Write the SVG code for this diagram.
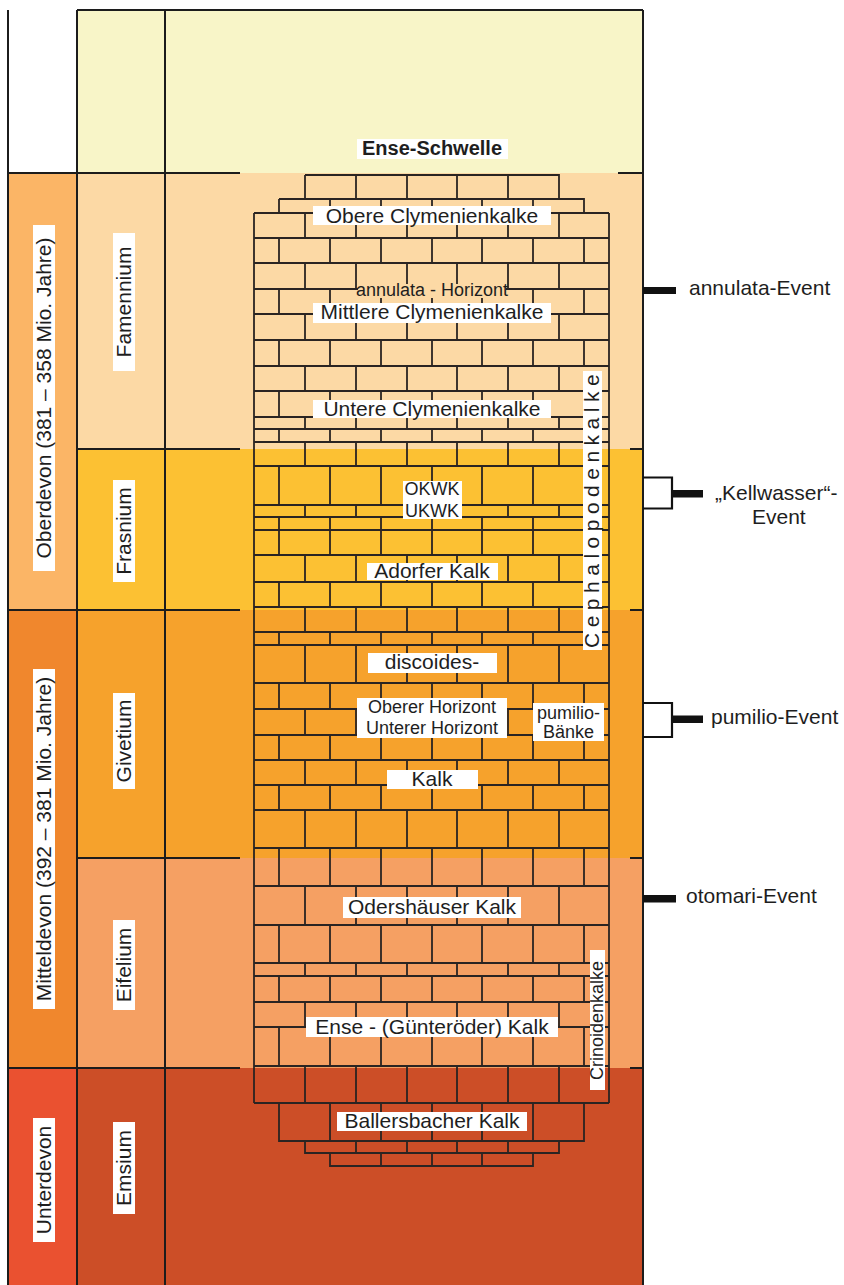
<svg xmlns="http://www.w3.org/2000/svg" width="844" height="1285" viewBox="0 0 844 1285">
<style>
text { font-family: "Liberation Sans", Arial, Helvetica, sans-serif; fill: #1e1e1e; }
.l { font-size: 21px; text-anchor: middle; }
.s { font-size: 18px; text-anchor: middle; }
.ev { font-size: 21px; }
.box { fill: #ffffff; }
.frame { stroke: #1c1c1c; stroke-width: 2; fill: none; }
.brick { stroke: #2a2422; stroke-width: 1.8; fill: none; }
.va { stroke-dasharray: 25 25 26 25 26 26 25 26 12 13 24 39 12 38 27 25 25 13 38 26 26 25 25 25 38 38 39 38 13 26 25 39 37 1000; }
.vb { stroke-dasharray: 25 26 25 26 26 25 26 12 13 24 39 12 38 27 25 25 13 38 26 26 25 25 25 38 38 39 38 13 26 25 39 1000; }
.bar { fill: #111111; }
.bracket { stroke: #111111; stroke-width: 2.2; fill: none; }
</style>
<rect x="0" y="0" width="844" height="1285" fill="#ffffff"/>
<g id="backgrounds">
<rect x="77" y="10" width="566" height="163" fill="#f8f5c8"/>
<rect x="8" y="173" width="69" height="437" fill="#fbb566"/>
<rect x="8" y="610" width="69" height="458" fill="#f0872d"/>
<rect x="8" y="1068" width="69" height="217" fill="#ea5130"/>
<rect x="77" y="173" width="566" height="276" fill="#fcd9a5"/>
<rect x="77" y="449" width="566" height="161" fill="#fcc133"/>
<rect x="77" y="610" width="566" height="248" fill="#f6a22c"/>
<rect x="77" y="858" width="566" height="210" fill="#f5a063"/>
<rect x="77" y="1068" width="566" height="217" fill="#cc4e27"/>
</g>
<g id="frame">
<path class="frame" d="M8 10V1285M77 10V1285M165 10V1285M643 10V1285M77 10H643M8 173H240M618 173H643M77 449H240M630 449H643M8 610H240M630 610H643M77 858H240M630 858H643M8 1068H240M630 1068H643"/>
</g>
<g id="brick-wall">
<path class="brick" d="M254 213H609M254 238H609M254 263H609M254 289H609M254 314H609M254 340H609M254 366H609M254 391H609M254 417H609M254 429H609M254 442H609M254 466H609M254 505H609M254 517H609M254 530H609M254 555H609M254 582H609M254 607H609M254 632H609M254 645H609M254 683H609M254 709H609M254 735H609M254 760H609M254 785H609M254 810H609M254 848H609M254 886H609M254 925H609M254 963H609M254 976H609M254 1002H609M254 1027H609M254 1066H609M254 1103H609M254 213V1103M609 213V1103"/>
<path class="brick" d="M305 175H559V199M305 175V199M279 199H584V213M279 199V213M356 175V199M407 175V199M457 175V199M508 175V199M330 199V213M381 199V213M432 199V213M482 199V213M533 199V213"/>
<path class="brick" d="M279 1103V1141H584V1103M305 1141V1153H559V1141M330 1153V1166H533V1153M330 1103V1141M381 1103V1141M432 1103V1141M482 1103V1141M533 1103V1141M356 1141V1153M407 1141V1153M457 1141V1153M508 1141V1153M381 1153V1166M432 1153V1166M482 1153V1166"/>
<path class="brick va" d="M305 213V1103M356 213V1103M407 213V1103M457 213V1103M508 213V1103M559 213V1103"/>
<path class="brick vb" d="M279 238V1066M330 238V1066M381 238V1066M432 238V1066M482 238V1066M533 238V1066M584 238V1066"/>
</g>
<g id="ense-schwelle">
<rect class="box" x="357" y="139" width="151" height="20"/>
<text x="432" y="155" style="font-size:20px;font-weight:bold;text-anchor:middle">Ense-Schwelle</text>
</g>
<g id="oberdevon">
<rect class="box" x="33" y="225" width="22" height="346"/>
<text class="l" transform="translate(51 398) rotate(-90)">Oberdevon (381 – 358 Mio. Jahre)</text>
</g>
<g id="mitteldevon">
<rect class="box" x="33" y="669" width="22" height="340"/>
<text class="l" transform="translate(51 839) rotate(-90)">Mitteldevon (392 – 381 Mio. Jahre)</text>
</g>
<g id="unterdevon">
<rect class="box" x="33" y="1118" width="22" height="124"/>
<text class="l" transform="translate(51 1180) rotate(-90)">Unterdevon</text>
</g>
<g id="famennium">
<rect class="box" x="113" y="233" width="22" height="138"/>
<text class="l" transform="translate(131 302) rotate(-90)">Famennium</text>
</g>
<g id="frasnium">
<rect class="box" x="113" y="480" width="22" height="102"/>
<text class="l" transform="translate(131 531) rotate(-90)">Frasnium</text>
</g>
<g id="givetium">
<rect class="box" x="113" y="693" width="22" height="96"/>
<text class="l" transform="translate(131 741) rotate(-90)">Givetium</text>
</g>
<g id="eifelium">
<rect class="box" x="113" y="920" width="22" height="90"/>
<text class="l" transform="translate(131 965) rotate(-90)">Eifelium</text>
</g>
<g id="emsium">
<rect class="box" x="113" y="1122" width="22" height="92"/>
<text class="l" transform="translate(131 1168) rotate(-90)">Emsium</text>
</g>
<g id="obere-clymenienkalke">
<rect class="box" x="313" y="206" width="238" height="19"/>
<text class="l" x="432" y="222.5">Obere Clymenienkalke</text>
</g>
<g id="annulata-horizont">
<rect x="358" y="284" width="148" height="14" fill="#fcd9a5"/>
<text class="s" x="432" y="296">annulata - Horizont</text>
</g>
<g id="mittlere-clymenienkalke">
<rect class="box" x="313" y="303" width="238" height="20"/>
<text class="l" x="432" y="319">Mittlere Clymenienkalke</text>
</g>
<g id="untere-clymenienkalke">
<rect class="box" x="313" y="400" width="238" height="18"/>
<text class="l" x="432" y="415.5">Untere Clymenienkalke</text>
</g>
<g id="cephalopodenkalke">
<rect class="box" x="583" y="371" width="19" height="279"/>
<text transform="translate(599 648) rotate(-90)" style="font-size:21px;letter-spacing:5.5px">Cephalopodenkalke</text>
</g>
<g id="kwk">
<rect class="box" x="403" y="481" width="59" height="38"/>
<text class="s" x="432" y="495">OKWK</text>
<text class="s" x="432" y="516.5">UKWK</text>
</g>
<g id="adorfer-kalk">
<rect class="box" x="367" y="563" width="131" height="17"/>
<text class="l" x="432" y="577.5">Adorfer Kalk</text>
</g>
<g id="discoides">
<rect class="box" x="368" y="653" width="129" height="20"/>
<text class="l" x="432" y="668.5">discoides-</text>
</g>
<g id="horizonte">
<rect class="box" x="357" y="698" width="150" height="40"/>
<text class="s" x="432" y="712.5">Oberer Horizont</text>
<text class="s" x="432" y="733.5">Unterer Horizont</text>
</g>
<g id="pumilio-baenke">
<rect class="box" x="533" y="703" width="71" height="38"/>
<text class="s" x="568.5" y="718.5">pumilio-</text>
<text class="s" x="568.5" y="737.5">Bänke</text>
</g>
<g id="kalk">
<rect class="box" x="387" y="770" width="91" height="19"/>
<text class="l" x="432" y="785.5">Kalk</text>
</g>
<g id="odershaeuser-kalk">
<rect class="box" x="343" y="897" width="178" height="21"/>
<text class="l" x="432" y="913.5">Odershäuser Kalk</text>
</g>
<g id="ense-guenteroeder-kalk">
<rect class="box" x="306" y="1017" width="252" height="20"/>
<text class="l" x="432" y="1033.5">Ense - (Günteröder) Kalk</text>
</g>
<g id="crinoidenkalke">
<rect class="box" x="590" y="950" width="15" height="140"/>
<text transform="translate(603 1080) rotate(-90)" style="font-size:18px">Crinoidenkalke</text>
</g>
<g id="ballersbacher-kalk">
<rect class="box" x="337" y="1112" width="190" height="19"/>
<text class="l" x="432" y="1127.5">Ballersbacher Kalk</text>
</g>
<g id="connectors">
<rect class="bar" x="643" y="287" width="33" height="7"/>
<path class="bracket" d="M643 477.5H672V508.5H643"/>
<rect class="bar" x="672" y="490" width="31" height="7.5"/>
<path class="bracket" d="M643 703H672V737H643"/>
<rect class="bar" x="672" y="715.5" width="31" height="7.5"/>
<rect class="bar" x="643" y="895" width="33" height="7.5"/>
</g>
<g id="events">
<text class="ev" x="689" y="295">annulata-Event</text>
<text class="ev" x="715" y="500">„Kellwasser“-</text>
<text class="ev" x="752" y="524">Event</text>
<text class="ev" x="711" y="724">pumilio-Event</text>
<text class="ev" x="686" y="903">otomari-Event</text>
</g>
</svg>
